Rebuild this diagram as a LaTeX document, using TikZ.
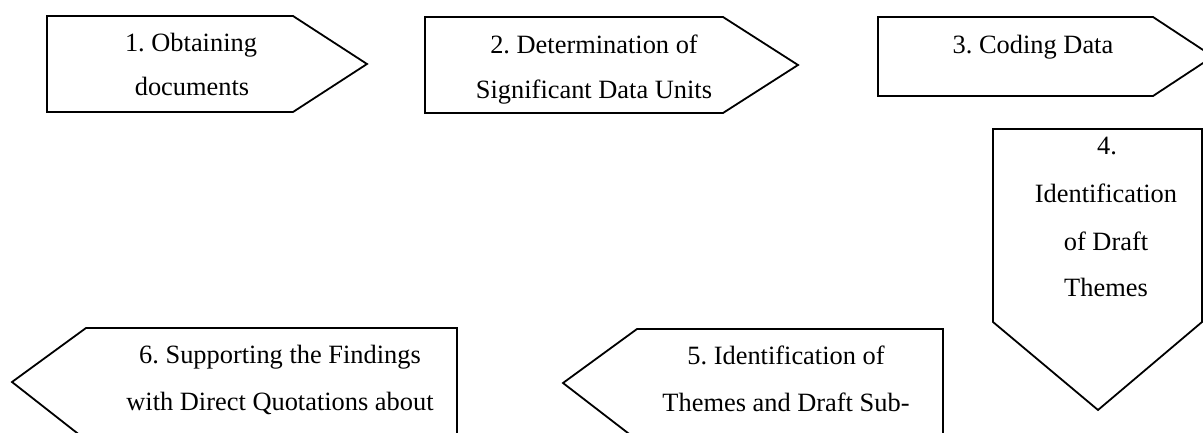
\documentclass[tikz,border=0pt]{standalone}
\usepackage{fontspec}
\setmainfont{Liberation Serif}
\frenchspacing
\begin{document}
\begin{tikzpicture}[x=1pt,y=-1pt,
  arrowbox/.style={draw=black,line width=1.8pt,line join=miter,fill=white},
  lbl/.style={anchor=base,inner sep=0pt,font=\fontsize{26.4}{45}\selectfont}]
\useasboundingbox (0,0) rectangle (1203,433);
\clip (0,0) rectangle (1203,433);
% shape 1
\draw[arrowbox] (47,16) -- (293,16) -- (367,64) -- (293,112) -- (47,112) -- cycle;
\node[lbl] (t1a) at (191,52) {1. Obtaining};
\node[lbl] (t1b) at (192,95.5) {documents};
% shape 2
\draw[arrowbox] (425,17) -- (723,17) -- (798,65) -- (723,113) -- (425,113) -- cycle;
\node[lbl] (t2a) at (594,54) {2. Determination of};
\node[lbl] (t2b) at (594,99) {Significant Data Units};
% shape 3
\draw[arrowbox] (878,17) -- (1153,17) -- (1213,56.5) -- (1153,96) -- (878,96) -- cycle;
\node[lbl] (t3a) at (1033,54) {3. Coding Data};
% shape 4
\draw[arrowbox] (993,129) -- (1202,129) -- (1202,322) -- (1098,410) -- (993,322) -- cycle;
\node[lbl] (t4a) at (1107,155) {4.};
\node[lbl] (t4b) at (1106,203) {Identification};
\node[lbl] (t4c) at (1106,250) {of Draft};
\node[lbl] (t4d) at (1106,296) {Themes};
% shape 5
\draw[arrowbox] (943,329) -- (943,440) -- (637,440) -- (563,383) -- (637,329) -- cycle;
\node[lbl] (t5a) at (786,364) {5. Identification of};
\node[lbl] (t5b) at (786,411) {Themes and Draft Sub-};
% shape 6
\draw[arrowbox] (457,328) -- (457,440) -- (86,440) -- (12,382) -- (86,328) -- cycle;
\node[lbl] (t6a) at (280,363) {6. Supporting the Findings};
\node[lbl] (t6b) at (280,410) {with Direct Quotations about};
\end{tikzpicture}
\end{document}
